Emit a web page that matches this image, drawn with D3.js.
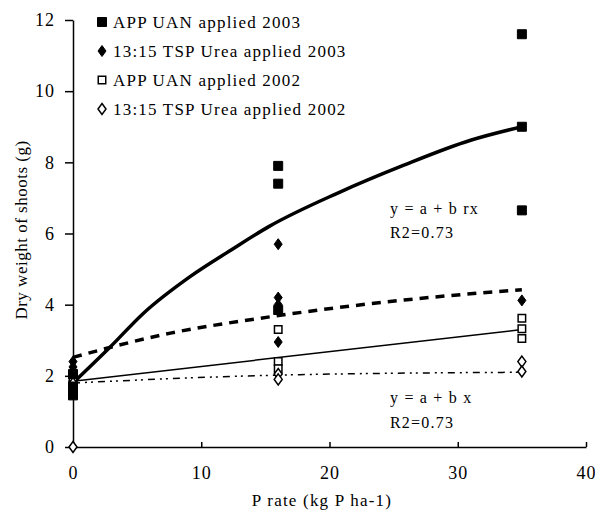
<!DOCTYPE html>
<html>
<head>
<meta charset="utf-8">
<script src="https://cdn.jsdelivr.net/npm/d3@7"></script>
<style>
  body { margin: 0; background: #fff; }
  text { font-family: "Liberation Serif", "DejaVu Serif", serif; fill: #000; }
</style>
</head>
<body>
<svg id="chart" width="595" height="521"></svg>
<script>
// data: [P rate, dry weight]
const appUan2003 = [[0, 1.45], [0, 1.7], [0, 2.05], [16, 7.9], [16, 7.4], [16, 3.85], [35, 11.6], [35, 9.0], [35, 6.65]];
const tspUrea2003 = [[0, 2.4], [0, 2.25], [16, 5.7], [16, 4.2], [16, 4.0], [16, 2.95], [35, 4.12]];
const appUan2002 = [[0, 1.95], [0, 1.75], [16, 3.3], [16, 2.4], [16, 2.2], [35, 3.62], [35, 3.32], [35, 3.05]];
const tspUrea2002 = [[0, 1.8], [0, 0], [16, 2.05], [16, 1.9], [35, 2.4], [35, 2.12]];

// fitted curves
const fitSqrt2003 = [[0, 1.8], [2.9, 2.81], [5.5, 3.76], [9.1, 4.78], [12.3, 5.53], [15.3, 6.2], [20.6, 7.13], [25.8, 7.92], [31, 8.62], [35, 9.0]];
const fitUrea2003 = [[0, 2.52], [7.6, 3.2], [15.2, 3.65], [25.8, 4.13], [35, 4.42]];
const fitLin2002 = [[0, 1.85], [35, 3.3]];
const fitUrea2002 = [[0, 1.8], [16, 2.02], [35, 2.1]];

const xTicks = [0, 10, 20, 30, 40];
const yTicks = [0, 2, 4, 6, 8, 10, 12];
const legendLabels = ['APP UAN applied 2003', '13:15 TSP Urea applied 2003', 'APP UAN applied 2002', '13:15 TSP Urea applied 2002'];

const svg = d3.select('#chart');
const x = d3.scaleLinear().domain([0, 40]).range([73, 586]);
const y = d3.scaleLinear().domain([0, 12]).range([447, 20]);

// axes
const xAxis = svg.append('g')
  .attr('transform', 'translate(0,' + y(0) + ')')
  .call(d3.axisBottom(x).tickValues(xTicks).tickSizeInner(-5).tickSizeOuter(0).tickPadding(19));
const yAxis = svg.append('g')
  .attr('transform', 'translate(' + x(0) + ',0)')
  .call(d3.axisLeft(y).tickValues(yTicks).tickSizeInner(8).tickSizeOuter(0).tickPadding(10));
[xAxis, yAxis].forEach(ax => {
  ax.select('.domain').attr('stroke', '#000').attr('stroke-width', 1.5);
  ax.selectAll('.tick line').attr('stroke', '#000').attr('stroke-width', 1.5);
  ax.selectAll('.tick text').attr('font-family', '"Liberation Serif", serif').attr('font-size', 18)
    .attr('letter-spacing', 1).attr('fill', '#000');
});

// axis titles
svg.append('text')
  .attr('x', 322).attr('y', 506)
  .attr('text-anchor', 'middle').attr('font-size', 17).attr('letter-spacing', 1.2)
  .text('P rate (kg P ha-1)');
svg.append('text')
  .attr('transform', 'translate(27,230) rotate(-90)')
  .attr('text-anchor', 'middle').attr('font-size', 17).attr('letter-spacing', 0.5)
  .text('Dry weight of shoots (g)');

// fit lines
const line = d3.line().x(d => x(d[0])).y(d => y(d[1])).curve(d3.curveMonotoneX);
svg.append('path').datum(fitSqrt2003).attr('d', line)
  .attr('fill', 'none').attr('stroke', '#000').attr('stroke-width', 3.5);
svg.append('path').datum(fitUrea2003).attr('d', line)
  .attr('fill', 'none').attr('stroke', '#000').attr('stroke-width', 3.5).attr('stroke-dasharray', '9,7');
svg.append('path').datum(fitLin2002).attr('d', line)
  .attr('fill', 'none').attr('stroke', '#000').attr('stroke-width', 1.5);
svg.append('path').datum(fitUrea2002).attr('d', line)
  .attr('fill', 'none').attr('stroke', '#000').attr('stroke-width', 1.5).attr('stroke-dasharray', '7,5,2,4,2,5');

// markers
const sq = d3.symbol().type(d3.symbolSquare).size(81)();
const sqOpen = d3.symbol().type(d3.symbolSquare).size(56)();
const dia = 'M0,-5.5L4,0L0,5.5L-4,0Z';

function drawPoints(data, path, filled) {
  svg.append('g').selectAll('path').data(data).join('path')
    .attr('d', path)
    .attr('transform', d => 'translate(' + x(d[0]) + ',' + y(d[1]) + ')')
    .attr('fill', filled ? '#000' : '#fff')
    .attr('stroke', '#000').attr('stroke-width', filled ? 1 : 1.5);
}
drawPoints(appUan2002, sqOpen, false);
drawPoints(tspUrea2002, dia, false);
drawPoints(appUan2003, sq, true);
drawPoints(tspUrea2003, dia, true);

// legend
const legendPaths = [[sq, true], [dia, true], [sqOpen, false], [dia, false]];
const legend = svg.append('g').selectAll('g').data(legendLabels).join('g')
  .attr('transform', (d, i) => 'translate(102,' + (22 + i * 29) + ')');
legend.append('path')
  .attr('d', (d, i) => legendPaths[i][0])
  .attr('fill', (d, i) => legendPaths[i][1] ? '#000' : '#fff')
  .attr('stroke', '#000').attr('stroke-width', (d, i) => legendPaths[i][1] ? 1 : 1.5);
legend.append('text')
  .attr('x', 11).attr('dy', '0.35em').attr('font-size', 17).attr('letter-spacing', 1.2)
  .text(d => d);

// equation notes
const notes = [['y = a + b rx', 208], ['R2=0.73', 232], ['y = a + b x', 397], ['R2=0.73', 422]];
svg.append('g').selectAll('text').data(notes).join('text')
  .attr('x', 390).attr('y', d => d[1]).attr('dy', '0.35em').attr('font-size', 16).attr('letter-spacing', 1.2)
  .text(d => d[0]);
</script>
</body>
</html>
